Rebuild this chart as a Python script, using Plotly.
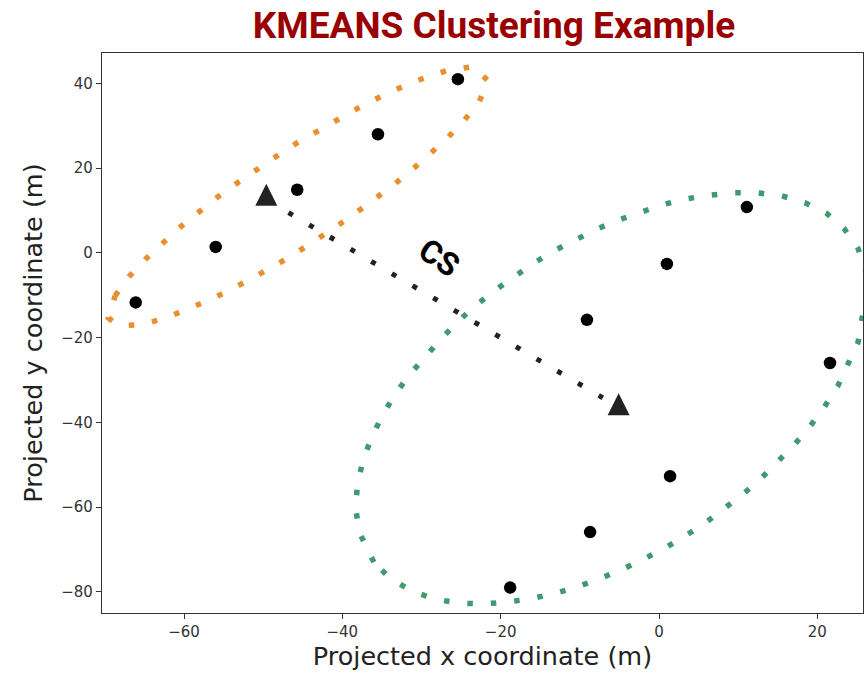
import plotly.graph_objects as go

# Observed (projected) positions of the samples
pts_x = [-66.1, -56.0, -45.7, -35.5, -25.4, 11.1, 1.0, -9.1, 21.6, 1.4, -8.7, -18.8]
pts_y = [-11.7, 1.4, 14.9, 28.0, 41.0, 10.8, -2.6, -15.8, -26.0, -52.7, -65.9, -79.0]

# Cluster centroids
cent_x = [-49.6, -5.1]
cent_y = [13.7, -35.7]

# Segment joining the two centroids (centroid separation)
sep_x = [-46.8, -7.1]
sep_y = [9.5, -34.2]
sep_label = "CS"
sep_label_x = -27.7
sep_label_y = -1.1

# Outline of cluster 1 (orange)
c1_x = [-68.71, -66.94, -64.84, -62.65, -60.33, -57.98, -55.62, -53.18, -50.69, -48.17,
        -45.64, -42.99, -40.38, -37.68, -35.03, -32.25, -29.43, -26.53, -23.49, -21.56,
        -22.77, -24.67, -26.82, -29.05, -31.33, -33.68, -36.12, -38.57, -41.05, -43.58,
        -46.10, -48.71, -51.37, -54.06, -56.76, -59.53, -62.40, -65.30, -68.29, -69.55,
        -68.71]
c1_y = [-10.15, -5.58, -1.41, 2.53, 6.31, 9.85, 13.39, 16.62, 19.93, 23.00,
        26.07, 28.98, 31.82, 34.49, 37.01, 39.38, 41.42, 43.16, 43.94, 40.56,
        35.43, 31.11, 26.94, 23.00, 19.38, 15.83, 12.37, 9.06, 5.83, 2.69,
        -0.31, -3.22, -5.98, -8.65, -11.09, -13.38, -15.42, -16.92, -17.16, -15.35,
        -10.15]

# Outline of cluster 2 (green)
c2_x = [-36.02, -37.84, -38.31, -38.10, -37.41, -36.36, -35.05, -33.49, -31.70, -29.76,
        -27.74, -25.62, -23.34, -20.97, -18.52, -16.02, -13.48, -10.77, -8.03, -5.24,
        -2.40, 0.51, 3.44, 6.43, 9.44, 12.44, 15.49, 18.40, 21.11, 23.39,
        25.14, 26.10, 26.30, 25.64, 25.14, 23.87, 22.58, 20.89, 19.12, 17.13,
        15.06, 12.91, 10.61, 8.25, 5.81, 3.22, 0.59, -2.11, -4.86, -7.64,
        -10.48, -13.39, -16.36, -19.36, -22.36, -25.41, -28.37, -31.29, -33.90, -36.02]
c2_y = [-72.99, -66.02, -60.40, -54.71, -49.11, -43.79, -38.74, -33.83, -29.17, -24.83,
        -20.72, -16.61, -12.71, -9.17, -5.83, -2.67, 0.26, 2.93, 5.48, 7.68,
        9.66, 11.41, 12.76, 13.63, 14.17, 14.17, 13.46, 11.88, 9.42, 5.72,
        1.04, -4.18, -10.10, -15.50, -21.12, -26.41, -31.46, -36.35, -40.86, -45.21,
        -49.34, -53.22, -56.93, -60.49, -63.80, -66.90, -69.82, -72.42, -74.88, -77.00,
        -78.92, -80.50, -81.68, -82.46, -82.86, -82.63, -81.68, -79.77, -76.93, -72.99]

x_ticks = [-60, -40, -20, 0, 20]
y_ticks = [-80, -60, -40, -20, 0, 20, 40]


def tick_text(values):
    return [("\u2212" + str(abs(v))) if v < 0 else str(v) for v in values]


ORANGE = "#E8902F"
GREEN = "#3F9B6D"
DOTS = "5.5px,18px"

fig = go.Figure()

fig.add_trace(go.Scatter(
    x=c1_x, y=c1_y, mode="lines",
    line=dict(color=ORANGE, width=5.5, dash=DOTS),
    hoverinfo="skip", showlegend=False,
))
fig.add_trace(go.Scatter(
    x=c2_x, y=c2_y, mode="lines",
    line=dict(color=GREEN, width=5.5, dash=DOTS),
    hoverinfo="skip", showlegend=False,
))
fig.add_trace(go.Scatter(
    x=sep_x, y=sep_y, mode="lines",
    line=dict(color="#222222", width=5, dash="5px,19px"),
    hoverinfo="skip", showlegend=False,
))
fig.add_trace(go.Scatter(
    x=pts_x, y=pts_y, mode="markers",
    marker=dict(color="#000000", size=12.5, line=dict(width=0)),
    showlegend=False,
))
# Centroids: upward triangle centred on the centroid
fig.add_trace(go.Scatter(
    x=cent_x, y=cent_y, mode="markers",
    marker=dict(symbol="arrow-down", angle=180, standoff=11, size=22,
                color="#222222", line=dict(width=0)),
    showlegend=False,
))

fig.add_annotation(
    x=sep_label_x, y=sep_label_y, text=sep_label, showarrow=False,
    textangle=34,
    font=dict(family="Roboto", size=32, color="#000000", weight="bold"),
)

axis_common = dict(
    showgrid=False, zeroline=False,
    showline=True, linecolor="#333333", linewidth=1.3, mirror=True,
    ticks="outside", ticklen=5, tickwidth=1.2, tickcolor="#333333",
    tickfont=dict(family="DejaVu Sans", size=15, color="#333333"),
)

fig.update_layout(
    width=865, height=673,
    margin=dict(l=102, r=2, t=53, b=60),
    paper_bgcolor="white", plot_bgcolor="white",
    title=dict(
        text="KMEANS Clustering Example",
        font=dict(family="Roboto", size=37, color="#990000", weight="bold"),
        xref="container", x=494 / 865, xanchor="center",
        yref="container", y=1 - 25 / 673, yanchor="middle",
    ),
    xaxis=dict(
        range=[-70.36, 25.77], tickvals=x_ticks, ticktext=tick_text(x_ticks),
        title=dict(text="Projected x coordinate (m)", standoff=6,
                   font=dict(family="DejaVu Sans", size=25.5, color="#222222")),
        **axis_common,
    ),
    yaxis=dict(
        range=[-84.99, 47.17], tickvals=y_ticks, ticktext=tick_text(y_ticks),
        title=dict(text="Projected y coordinate (m)", standoff=11,
                   font=dict(family="DejaVu Sans", size=25.5, color="#222222")),
        **axis_common,
    ),
)

fig.write_html("out.html")
